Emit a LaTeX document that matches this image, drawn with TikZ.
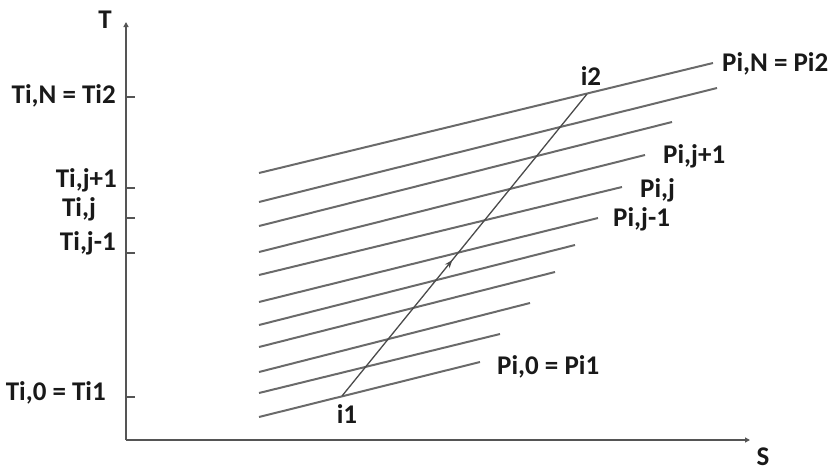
\documentclass[tikz,border=0pt]{standalone}
\usepackage{fontspec}
\setmainfont{Carlito}
\usetikzlibrary{arrows.meta,decorations.markings}
\definecolor{taxis}{HTML}{555555}
\definecolor{tiso}{HTML}{6A6A6A}
\definecolor{tpath}{HTML}{4A4A4A}
\tikzset{
  axis/.style={-{Triangle[length=5pt,width=5pt]},line width=1.6pt,draw=taxis},
  tick/.style={line width=1.2pt,draw=taxis},
  iso/.style={line width=2pt,draw=tiso},
  proc/.style={line width=1.3pt,draw=tpath,postaction={decorate},
    decoration={markings,mark=at position 0.45 with {\arrow{Stealth[length=8pt,width=6pt]}}}},
  lbl/.style={font=\fontsize{27}{31}\selectfont\bfseries,text=black!90,inner sep=0pt},
}
\begin{document}
\begin{tikzpicture}[x=1pt,y=-1pt]
  \useasboundingbox (0,0) rectangle (830,474);
  % axes
  \coordinate (o) at (126,440);
  \coordinate (ttop) at (126,22);
  \coordinate (send) at (750,440);
  \draw[axis] (o) -- (ttop);
  \draw[axis] (o) -- (send);
  \node[lbl] (tlab) at (105,20) {T};
  \node[lbl] (slab) at (763,457) {S};
  % ticks and temperature labels
  \foreach \ty in {97,188,218,253,397}
    \draw[tick] (126,\ty) -- (135,\ty);
  \node[lbl,anchor=east] (tN) at (116,96) {Ti,N = Ti2};
  \node[lbl,anchor=east] (tjp) at (117,180) {Ti,j+1};
  \node[lbl] (tj) at (79,209) {Ti,j};
  \node[lbl,anchor=east] (tjm) at (116,243) {Ti,j-1};
  \node[lbl,anchor=east] (tz) at (106,393) {Ti,0 = Ti1};
  % isobars
  \foreach \ys/\xe/\ye in {173/713/63,202/717/88,226/672/122,252/645/155,275/622/187,302/598/218,325/575/245,347/555/272,372/530/303,393/500/334,417/480/362}
    \draw[iso] (259,\ys) -- (\xe,\ye);
  \node[lbl,anchor=west] (pN) at (722,64) {Pi,N = Pi2};
  \node[lbl,anchor=west] (pjp) at (663,156) {Pi,j+1};
  \node[lbl,anchor=west] (pj) at (640,190) {Pi,j};
  \node[lbl,anchor=west] (pjm) at (613,219) {Pi,j-1};
  \node[lbl,anchor=west] (pz) at (497,367) {Pi,0 = Pi1};
  % process i1 -> i2
  \coordinate (i1) at (342,396);
  \coordinate (i2) at (587,94);
  \draw[proc] (i1) -- (i2);
  \node[lbl] (i1lab) at (347,414) {i1};
  \node[lbl] (i2lab) at (591,76) {i2};
\end{tikzpicture}
\end{document}
